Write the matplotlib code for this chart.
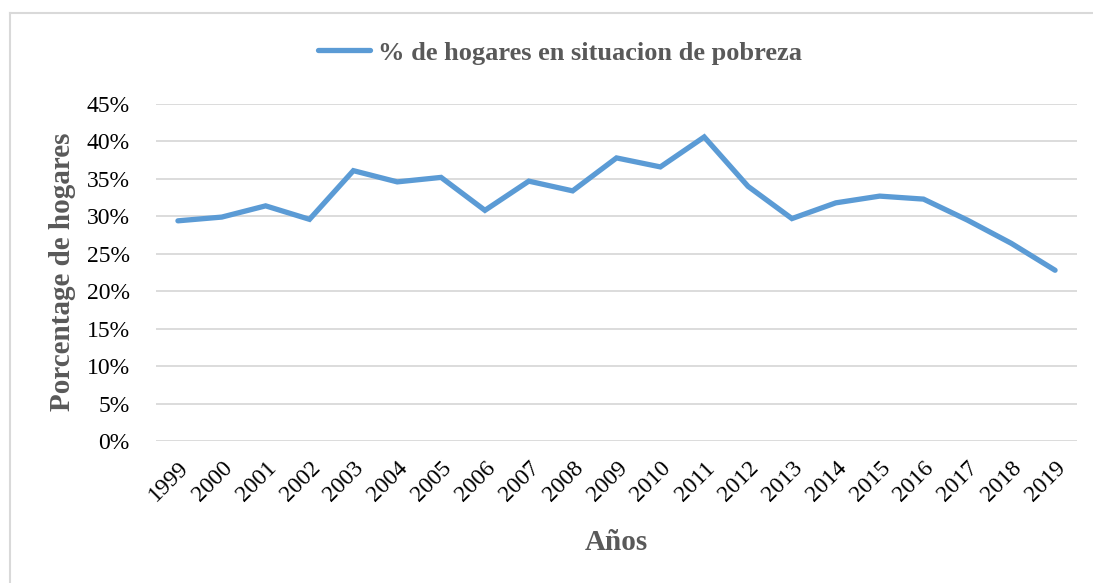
import matplotlib.pyplot as plt
from matplotlib.lines import Line2D
from matplotlib.ticker import FuncFormatter

anios = ['1999', '2000', '2001', '2002', '2003', '2004', '2005', '2006', '2007', '2008', '2009',
         '2010', '2011', '2012', '2013', '2014', '2015', '2016', '2017', '2018', '2019']
pobreza = [29.4, 29.9, 31.4, 29.6, 36.1, 34.6, 35.2, 30.8, 34.7, 33.4, 37.8,
           36.6, 40.6, 34.0, 29.7, 31.8, 32.7, 32.3, 29.5, 26.4, 22.8]
serie = '% de hogares en situacion de pobreza'

plt.rcParams['font.family'] = ['Liberation Serif', 'DejaVu Serif']

W, H = 1093, 583
fig = plt.figure(figsize=(W / 100, H / 100), dpi=100)
# plot area in pixels: x 156..1077, y 104..441
ax = fig.add_axes([156 / W, 1 - 441 / H, (1077 - 156) / W, (441 - 104) / H])

x = list(range(len(anios)))
ax.plot(x, pobreza, color='#5B9BD5', linewidth=3.8, solid_capstyle='round',
        solid_joinstyle='miter', label=serie)

ax.set_xlim(-0.5, len(anios) - 0.5)
ax.set_ylim(0, 45)
ax.set_yticks(range(0, 46, 5))
ax.yaxis.set_major_formatter(FuncFormatter(lambda v, p: '%d%%' % v))
ax.set_xticks(x)
ax.set_xticklabels(anios, rotation=45, ha='right', rotation_mode='anchor')
ax.tick_params(axis='both', length=0, labelsize=17, colors='black')
ax.tick_params(axis='y', pad=19)
ax.tick_params(axis='x', pad=12)
ax.grid(axis='y', color='#d9d9d9', linewidth=1.3)
ax.set_axisbelow(True)
for s in ax.spines.values():
    s.set_visible(False)

fig.text(63 / W, 1 - 272 / H, 'Porcentage de hogares', rotation=90, fontsize=21,
         fontweight='bold', color='#595959', ha='center', va='center')
fig.text((156 + 1077) / 2 / W, 1 - 543 / H, 'Años', fontsize=21, fontweight='bold',
         color='#595959', ha='center', va='center')

leg = fig.legend(loc='center', bbox_to_anchor=(560 / W, 1 - 53 / H), frameon=False,
                 prop={'size': 19, 'weight': 'bold'}, handlelength=2.0, handletextpad=0.3)
for t in leg.get_texts():
    t.set_color('#595959')

# outer chart border (left and top visible)
fig.add_artist(Line2D([10 / W, 10 / W], [0, 1 - 13 / H], transform=fig.transFigure,
                      color='#d9d9d9', linewidth=1.5))
fig.add_artist(Line2D([10 / W, 1], [1 - 13 / H, 1 - 13 / H], transform=fig.transFigure,
                      color='#d9d9d9', linewidth=1.5))

fig.savefig('out.png', dpi=100)
